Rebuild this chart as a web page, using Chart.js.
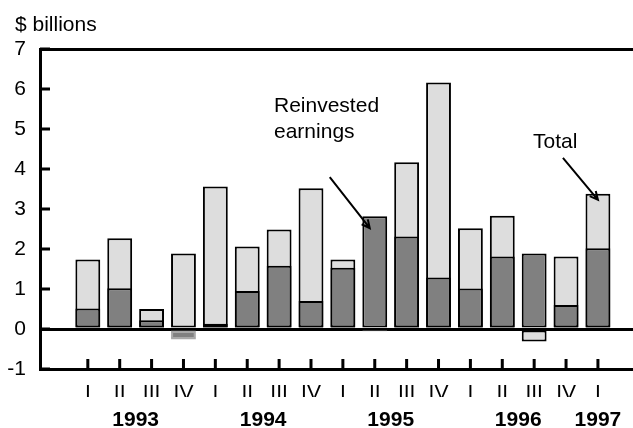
<!DOCTYPE html>
<html>
<head>
<meta charset="utf-8">
<script src="https://cdn.jsdelivr.net/npm/chart.js@4"></script>
<style>
  html, body { margin: 0; padding: 0; background: #fff; overflow: hidden; }
</style>
</head>
<body>
<canvas id="myChart" width="633" height="428"></canvas>
<script>
// quarters shown on the x axis, with the year each one belongs to
const quarters = ['I', 'II', 'III', 'IV', 'I', 'II', 'III', 'IV', 'I', 'II', 'III', 'IV', 'I', 'II', 'III', 'IV', 'I'];
const quarterYears = ['1993', '1993', '1993', '1993', '1994', '1994', '1994', '1994',
  '1995', '1995', '1995', '1995', '1996', '1996', '1996', '1996', '1997'];
// $ billions
const totalValues = [1.74, 2.27, 0.50, 1.89, 3.56, 2.06, 2.49, 3.52, 1.74, -0.06, 4.17, 6.16, 2.52, 2.83, -0.31, 1.81, 3.38];
const reinvestedValues = [0.51, 1.02, 0.22, -0.26, 0.13, 0.95, 1.58, 0.70, 1.53, 2.82, 2.31, 1.29, 1.01, 1.81, 1.89, 0.60, 2.02];
const yTicks = [-1, 0, 1, 2, 3, 4, 5, 6, 7];

// year label sits in the middle of its quarters
const years = [...new Set(quarterYears)];
const yearCenters = years.map(y => {
  const idx = quarterYears.map((q, i) => q === y ? i + 1 : null).filter(v => v !== null);
  return idx.reduce((a, b) => a + b, 0) / idx.length;
});

const FONT = 'Liberation Sans, Arial, Helvetica, sans-serif';
Chart.defaults.font.family = FONT;
Chart.defaults.font.size = 21;
Chart.defaults.color = '#000';

const xMin = -0.5, xMax = 18.1;

// inward tick marks, annotations, unit label
const extras = {
  id: 'extras',
  afterDatasetsDraw(chart) {
    const ctx = chart.ctx;
    const xs = chart.scales.x, ys = chart.scales.y;
    const area = chart.chartArea;
    ctx.save();
    ctx.strokeStyle = '#000';
    ctx.lineWidth = 3;
    ctx.beginPath();
    yTicks.forEach(v => {
      const py = ys.getPixelForValue(v);
      ctx.moveTo(area.left, py);
      ctx.lineTo(area.left + 10, py);
    });
    quarters.forEach((q, i) => {
      const px = xs.getPixelForValue(i + 1);
      ctx.moveTo(px, area.bottom);
      ctx.lineTo(px, area.bottom - 10);
    });
    ctx.stroke();

    ctx.fillStyle = '#000';
    ctx.font = '21px ' + FONT;
    ctx.textBaseline = 'alphabetic';
    ctx.textAlign = 'left';
    ctx.fillText('$ billions', 15, 31);
    ctx.fillText('Reinvested', 274, 112);
    ctx.fillText('earnings', 274, 138);
    ctx.fillText('Total', 533, 148);

    const arrow = (x0, y0, x1, y1) => {
      ctx.lineWidth = 2;
      ctx.beginPath();
      ctx.moveTo(x0, y0);
      ctx.lineTo(x1, y1);
      const a = Math.atan2(y1 - y0, x1 - x0);
      const h = 9;
      ctx.moveTo(x1 - h * Math.cos(a - 0.45), y1 - h * Math.sin(a - 0.45));
      ctx.lineTo(x1, y1);
      ctx.lineTo(x1 - h * Math.cos(a + 0.45), y1 - h * Math.sin(a + 0.45));
      ctx.stroke();
    };
    // Reinvested earnings -> 1995 II
    const rx = xs.getPixelForValue(10) - 5, ry = ys.getPixelForValue(reinvestedValues[9]) + 12;
    arrow(rx - 40, ry - 51, rx, ry);
    // Total -> 1997 I
    const tx = xs.getPixelForValue(17), ty = ys.getPixelForValue(totalValues[16]) + 6;
    arrow(tx - 35, ty - 42, tx, ty);
    ctx.restore();
  }
};

new Chart(document.getElementById('myChart'), {
  type: 'bar',
  data: {
    datasets: [
      {
        label: 'Reinvested earnings',
        data: reinvestedValues.map((v, i) => ({ x: i + 1, y: v })),
        backgroundColor: '#808080',
        borderColor: c => (c.raw && c.raw.y < 0) ? '#a8a8a8' : '#000',
        borderWidth: 2,
        borderSkipped: false,
        grouped: false,
        order: 0,
        barPercentage: 0.78,
        categoryPercentage: 1
      },
      {
        label: 'Total',
        data: totalValues.map((v, i) => ({ x: i + 1, y: v })),
        backgroundColor: '#dddddd',
        borderColor: c => (c.raw && c.raw.y < 0 && c.raw.y > -0.1) ? '#cccccc' : '#000',
        borderWidth: 2,
        borderSkipped: false,
        grouped: false,
        order: 1,
        barPercentage: 0.78,
        categoryPercentage: 1
      }
    ]
  },
  options: {
    responsive: false,
    animation: false,
    layout: { padding: { top: 49, left: 0, right: 0, bottom: 0 } },
    plugins: { legend: { display: false }, tooltip: { enabled: false } },
    scales: {
      x: {
        type: 'linear',
        min: xMin,
        max: xMax,
        offset: false,
        grid: { display: false, drawTicks: false },
        border: { display: true, color: '#000', width: 3 },
        afterBuildTicks: s => { s.ticks = quarters.map((q, i) => ({ value: i + 1 })); },
        afterFit: s => { s.height = 28; },
        ticks: {
          autoSkip: false,
          maxRotation: 0,
          padding: 12,
          callback: v => quarters[v - 1]
        }
      },
      x2: {
        type: 'linear',
        axis: 'x',
        position: 'bottom',
        min: xMin,
        max: xMax,
        offset: false,
        weight: 1,
        grid: { display: false, drawTicks: false },
        border: { display: false },
        afterBuildTicks: s => { s.ticks = yearCenters.map(v => ({ value: v })); },
        afterFit: s => { s.height = 31; },
        ticks: {
          autoSkip: false,
          maxRotation: 0,
          padding: 11,
          font: { weight: 'bold' },
          callback: v => years[yearCenters.indexOf(v)]
        }
      },
      y: {
        min: -1,
        max: 7,
        afterBuildTicks: s => { s.ticks = yTicks.map(v => ({ value: v })); },
        afterFit: s => { s.width = 40; },
        grid: {
          drawTicks: false,
          lineWidth: 3,
          color: c => (c.tick && (c.tick.value === 0 || c.tick.value === 7)) ? '#000' : 'rgba(0,0,0,0)'
        },
        border: { display: true, color: '#000', width: 3 },
        ticks: { padding: 14 }
      }
    }
  },
  plugins: [extras]
});
</script>
</body>
</html>
